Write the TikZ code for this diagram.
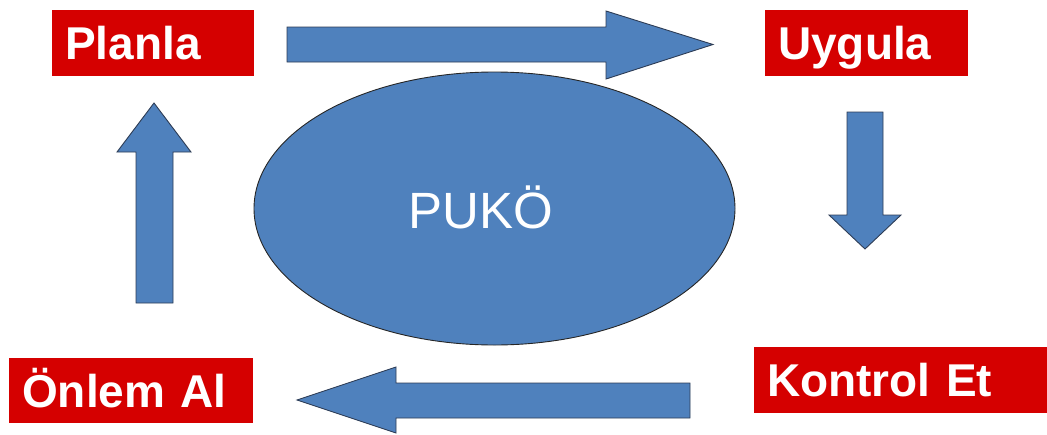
\documentclass[tikz,border=0pt]{standalone}
\usepackage{fontspec}
\setmainfont{Liberation Sans}
\usetikzlibrary{shapes.geometric}
\definecolor{boxred}{RGB}{213,0,0}
\definecolor{shapeblue}{RGB}{79,129,189}
\definecolor{shapeedge}{RGB}{45,60,85}
\tikzset{
  labelbox/.style={fill=boxred, text=white, font=\fontsize{46}{55}\selectfont\bfseries,
    inner xsep=13pt, inner ysep=0pt, text height=32.9pt, text depth=0pt,
    align=left, anchor=north west, minimum height=66pt},
  blockarrow/.style={fill=shapeblue, draw=shapeedge, line width=0.9pt, line join=miter},
}
\begin{document}
\begin{tikzpicture}[x=1pt,y=-1pt]
\useasboundingbox (0,0) rectangle (1047,434);
% labels
\node[labelbox, text width=176pt] (planla) at (52,10) {Planla};
\node[labelbox, text width=177pt] (uygula) at (765,10) {Uygula};
\node[labelbox, text width=267pt] (kontrol) at (754,347) {Kontrol Et};
\node[labelbox, text width=218pt, minimum height=65pt] (onlem) at (9,358) {Önlem Al};
% centre ellipse
\node[ellipse, fill=shapeblue, draw=black!85, line width=0.9pt, minimum width=481pt,
      minimum height=273pt, inner sep=0pt] (puko) at (494.5,208.5) {};
\node[text=white, font=\fontsize{51}{60}\selectfont, inner sep=0pt, text height=36.5pt,
      text depth=0pt] (pukotext) at (480.5,210.5) {PUKÖ};
% block arrows
\draw[blockarrow] (287,27) -- (606,27) -- (606,11) -- (713,44.5) -- (606,79) -- (606,62) -- (287,62) -- cycle;
\draw[blockarrow] (847,112) -- (883,112) -- (883,215) -- (901,215) -- (865,249) -- (829,215) -- (847,215) -- cycle;
\draw[blockarrow] (690,383) -- (396,383) -- (396,367) -- (297,400) -- (396,433) -- (396,418) -- (690,418) -- cycle;
\draw[blockarrow] (136,303) -- (136,152) -- (117,152) -- (154,103) -- (191,152) -- (173,152) -- (173,303) -- cycle;
\end{tikzpicture}
\end{document}
